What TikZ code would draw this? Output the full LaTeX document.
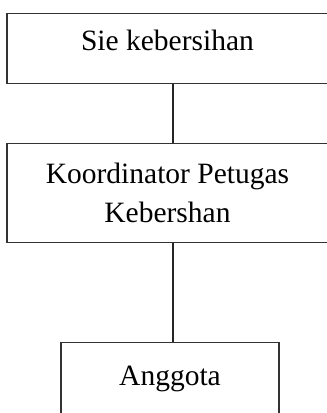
\documentclass[tikz,border=0pt]{standalone}
\usepackage{fontspec}
\setmainfont{Liberation Serif}
\usetikzlibrary{positioning}
\definecolor{box line}{HTML}{333333}

\begin{document}
\begin{tikzpicture}[x=1pt, y=-1pt,
    unit/.style={draw=box line, line width=1.1pt, inner sep=0pt, align=center, font=\fontsize{29.5}{39}\selectfont},
    link/.style={draw=black!85, line width=1.3pt}]
                \useasboundingbox (0, 0) rectangle (327, 413);
                \clip (0, 0) rectangle (327, 413);
                \node [unit, anchor=north, minimum width=321pt, text height=37pt, text depth=33pt] (sie) at (167.5, 13) {Sie kebersihan};
                \node [unit, anchor=north, minimum width=321pt, minimum height=99pt] (koord) at (167.5, 143) {Koordinator Petugas\\Kebershan};
                \node [unit, anchor=north, minimum width=218pt, text height=43pt, text depth=70pt] (anggota) at (170, 342) {Anggota};
                \coordinate (spine) at (173, 0);
                \draw [link] (sie.south -| spine) -- (koord.north -| spine);
                \draw [link] (koord.south -| spine) -- (anggota.north -| spine);
            \end{tikzpicture}
\end{document}
